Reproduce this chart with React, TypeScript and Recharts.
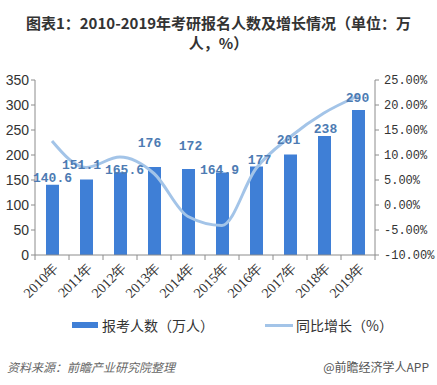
import { Bar, ComposedChart, Line, XAxis, YAxis } from "recharts";

const years = ["2010年", "2011年", "2012年", "2013年", "2014年", "2015年", "2016年", "2017年", "2018年", "2019年"];
const applicants = [140.6, 151.1, 165.6, 176, 172, 164.9, 177, 201, 238, 290];
const growth = [12.8, 7.5, 9.6, 6.3, -2.3, -4.1, 7.3, 13.6, 18.4, 21.8];
const leftTicks = [0, 50, 100, 150, 200, 250, 300, 350];
const rightTicks = [-10, -5, 0, 5, 10, 15, 20, 25];

// hand-placed label nudges in the original (dx, lift above bar top)
const labelNudge = [
  [0, 6], [-5, 14], [4, 2], [-5, 24], [2, 23], [-3, 2], [3, 6], [-2, 14], [1, 7], [-1, 12]
];

const data = years.map((year, i) => ({ year, applicants: applicants[i], growth: growth[i] }));

const BAR = "#3f7fd6";
const LINE = "#a3c4e8";
const AXIS = "#8c8c8c";
const STEP = 34;

function BarLabel(props: any) {
  const { x, y, width, value, index } = props;
  const [dx, lift] = labelNudge[index] || [0, 8];
  return (
    <text
      x={x + width / 2 + dx}
      y={y - lift}
      textAnchor="middle"
      dominantBaseline="central"
      fill="#4d7bb3"
      fontFamily="'Liberation Mono', monospace"
      fontWeight="bold"
      fontSize={13}
    >
      {value}
    </text>
  );
}

function YearTick(props: any) {
  const { x, y, payload, index } = props;
  return (
    <g>
      <line x1={x - STEP / 2} x2={x - STEP / 2} y1={y - 8} y2={y - 3} stroke={AXIS} />
      {index === years.length - 1 && <line x1={x + STEP / 2} x2={x + STEP / 2} y1={y - 8} y2={y - 3} stroke={AXIS} />}
      <text
        x={x + 7}
        y={y + 6}
        textAnchor="end"
        transform={`rotate(-45 ${x + 7} ${y + 6})`}
        fill="#333"
        fontFamily="'Liberation Serif', serif"
        fontSize={14}
      >
        {payload.value}
      </text>
    </g>
  );
}

export default function App() {
  return (
    <div style={{ position: "absolute", left: 0, top: 0, width: 437, height: 385, background: "#fff", fontFamily: "'Noto Sans CJK SC', sans-serif" }}>
      <div style={{ position: "absolute", left: 0, top: 13, width: 437, textAlign: "center", fontSize: 15, fontWeight: "bold", color: "#333", lineHeight: "20px" }}>
        图表1：2010-2019年考研报名人数及增长情况（单位：万
        <br />
        人，%）
      </div>
      <ComposedChart
        width={437}
        height={385}
        data={data}
        margin={{ top: 80, right: 0, left: 0, bottom: 0 }}
        style={{ position: "absolute", left: 0, top: 0 }}
      >
        <XAxis
          dataKey="year"
          stroke={AXIS}
          tickLine={false}
          tick={<YearTick />}
          height={130}
          interval={0}
        />
        <YAxis
          yAxisId="left"
          domain={[0, 350]}
          ticks={leftTicks}
          width={35}
          stroke={AXIS}
          tickSize={4}
          tick={{ fill: "#333", fontSize: 14, fontFamily: "'Liberation Sans', sans-serif" }}
        />
        <YAxis
          yAxisId="right"
          orientation="right"
          domain={[-10, 25]}
          ticks={rightTicks}
          width={62}
          stroke={AXIS}
          tickSize={4}
          tickFormatter={(v) => `${v.toFixed(2)}%`}
          tick={{ fill: "#333", fontSize: 12, fontFamily: "'Liberation Mono', monospace", textAnchor: "start", dx: 3 }}
        />
        <Bar
          yAxisId="left"
          dataKey="applicants"
          fill={BAR}
          barSize={13}
          isAnimationActive={false}
          label={<BarLabel />}
        />
        <Line
          yAxisId="right"
          type="monotone"
          dataKey="growth"
          stroke={LINE}
          strokeWidth={3}
          dot={false}
          isAnimationActive={false}
        />
      </ComposedChart>
      <div style={{ position: "absolute", left: 72, top: 315, display: "flex", alignItems: "center", fontSize: 14, color: "#333" }}>
        <span style={{ display: "inline-block", width: 26, height: 6, background: BAR, marginRight: 4 }} />
        报考人数（万人）
        <span style={{ display: "inline-block", width: 28, height: 3, background: LINE, marginLeft: 51, marginRight: 3 }} />
        同比增长（%）
      </div>
      <div style={{ position: "absolute", left: 7, top: 358, fontSize: 12, fontStyle: "italic", color: "#666" }}>
        资料来源：前瞻产业研究院整理
      </div>
      <div style={{ position: "absolute", right: 8, top: 358, fontSize: 12, color: "#555" }}>
        @前瞻经济学人APP
      </div>
    </div>
  );
}
